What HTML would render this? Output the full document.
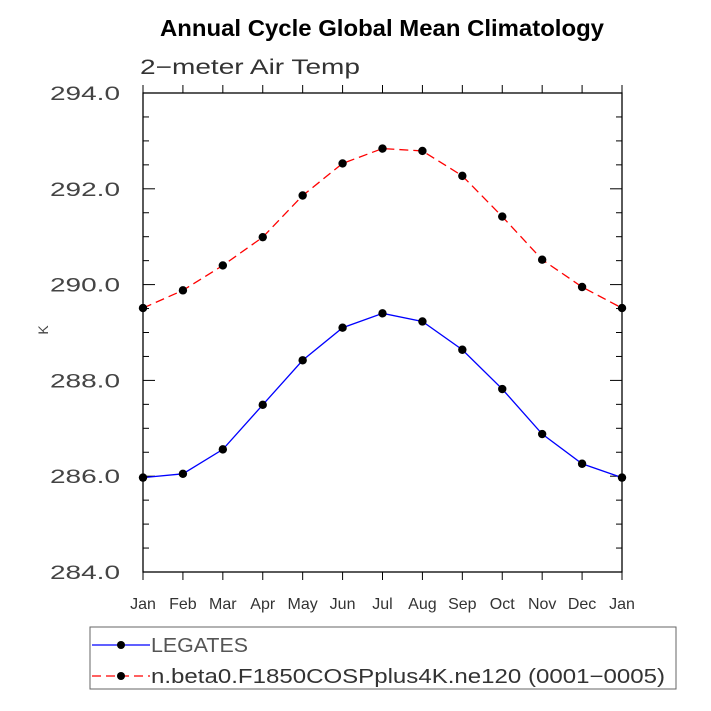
<!DOCTYPE html>
<html><head><meta charset="utf-8"><style>
body{margin:0;background:#fff}
svg{display:block;font-family:"Liberation Sans",sans-serif}
</style></head><body>
<svg id="c" width="711" height="711" viewBox="0 0 711 711">
<text x="160" y="36" textLength="444" lengthAdjust="spacingAndGlyphs" font-size="23" font-weight="bold">Annual Cycle Global Mean Climatology</text>
<text x="140" y="74" textLength="220" lengthAdjust="spacingAndGlyphs" font-size="21" fill="#333">2−meter Air Temp</text>
<text transform="translate(48,330) rotate(-90)" text-anchor="middle" font-size="14" fill="#444">K</text>
<g id="axes"></g><g id="series"></g>
<rect x="90" y="627" width="586" height="62" fill="none" stroke="#666" stroke-width="1"/>
<line x1="92" y1="645" x2="150" y2="645" stroke="#00f" stroke-width="1.3"/>
<circle cx="121" cy="645" r="4" fill="#000"/>
<text x="151" y="652" textLength="97" lengthAdjust="spacingAndGlyphs" font-size="20" fill="#555">LEGATES</text>
<line x1="92" y1="676" x2="150" y2="676" stroke="#f00" stroke-width="1.3" stroke-dasharray="9,5"/>
<circle cx="121" cy="676" r="4" fill="#000"/>
<text x="151" y="683" textLength="514" lengthAdjust="spacingAndGlyphs" font-size="20" fill="#333">n.beta0.F1850COSPplus4K.ne120 (0001−0005)</text>
</svg>
<script>
const months=["Jan","Feb","Mar","Apr","May","Jun","Jul","Aug","Sep","Oct","Nov","Dec","Jan"];
const legates=[285.97,286.05,286.56,287.49,288.42,289.10,289.40,289.23,288.64,287.82,286.88,286.26,285.97];
const model=[289.51,289.88,290.40,290.99,291.86,292.53,292.84,292.79,292.27,291.42,290.52,289.95,289.51];
const yTicks=[284,286,288,290,292,294];
const yMin=284,yMax=294;
const X0=143,X1=622,Y0=572,Y1=93;
const NS="http://www.w3.org/2000/svg";
const xs=i=>X0+(X1-X0)*i/(months.length-1);
const ys=v=>Y0-(Y0-Y1)*(v-yMin)/(yMax-yMin);
function mk(t,a,p){const e=document.createElementNS(NS,t);for(const k in a)e.setAttribute(k,a[k]);p.appendChild(e);return e;}
const ax=document.getElementById('axes');
const frame=mk('rect',{x:X0,y:Y1,width:X1-X0,height:Y0-Y1,fill:'none',stroke:'#000','stroke-width':1.3},ax);


for(let v=yMin;v<=yMax+1e-9;v+=0.5){
  const y=ys(v),maj=Math.abs(v-Math.round(v/2)*2)<1e-6,L=maj?12:6;
  const t1=mk('line',{x1:X0,x2:X0+L,y1:y,y2:y,stroke:'#000','stroke-width':1},ax);
  
  
  const t2=mk('line',{x1:X1,x2:X1-L,y1:y,y2:y,stroke:'#000','stroke-width':1},ax);
  
  
}
yTicks.forEach(v=>{
  const t=mk('text',{x:120,y:ys(v)+7,'text-anchor':'end','font-size':19,fill:'#444',textLength:70,lengthAdjust:'spacingAndGlyphs'},ax);
  t.textContent=v.toFixed(1);
  
  
});
months.forEach((m,i)=>{
  const x=xs(i);
  const t1=mk('line',{x1:x,x2:x,y1:Y0,y2:Y0+8,stroke:'#000','stroke-width':1},ax);
  
  
  const t2=mk('line',{x1:x,x2:x,y1:Y1,y2:Y1-8,stroke:'#000','stroke-width':1},ax);
  
  
  const t=mk('text',{x:x,y:609,'text-anchor':'middle','font-size':16,fill:'#333'},ax);
  t.textContent=m;
  
  
});
const sg=document.getElementById('series');
function series(vals,color,dash,name){
  const pts=vals.map((v,i)=>xs(i)+','+ys(v)).join(' ');
  const a={points:pts,fill:'none',stroke:color,'stroke-width':1.3};
  if(dash)a['stroke-dasharray']=dash;
  const pl=mk('polyline',a,sg);
  
  
  vals.forEach((v,i)=>{
    const c=mk('circle',{cx:xs(i),cy:ys(v),r:4.2,fill:'#000'},sg);
    
    
  });
}
series(model,'#f00','9,5','model');
series(legates,'#00f',null,'legates');
</script>
</body></html>
